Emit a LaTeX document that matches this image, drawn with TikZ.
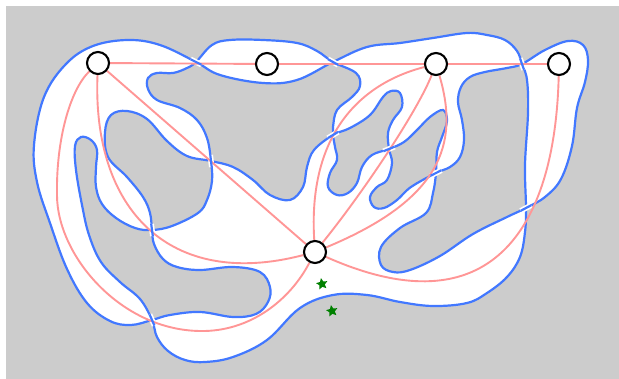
\documentclass[tikz,border=0pt]{standalone}
\usetikzlibrary{shapes.geometric}
\definecolor{bandblue}{RGB}{66,120,255}
\definecolor{edgepink}{RGB}{255,150,150}
\definecolor{canvasgray}{RGB}{204,204,204}
\definecolor{stargreen}{RGB}{0,128,0}
\pgfdeclarelayer{bg}
\pgfdeclarelayer{mid}
\pgfsetlayers{bg,mid,main}
\begin{document}
\begin{tikzpicture}[x=1pt,y=-1pt,
  vertex/.style={circle, draw=black, line width=2.1pt, fill=white, minimum size=22pt, inner sep=0pt},
  edge/.style={draw=edgepink, line width=1.9pt},
  rim/.style={draw=bandblue, line width=2.2pt},
  halo/.style={draw=white, line width=5.5pt},
  marker/.style={star, star points=5, star point ratio=2.1, fill=stargreen, minimum size=12pt, inner sep=0pt, rotate=10}]
\useasboundingbox (0,0) rectangle (619,379);

% vertices
\node[vertex] (n1) at (98,63) {};
\node[vertex] (n2) at (267,64) {};
\node[vertex] (n3) at (436,64) {};
\node[vertex] (n4) at (559,64) {};
\node[vertex] (n5) at (315,252) {};

% two small markers below the lower vertex
\node[marker] (s1) at (322,284) {};
\node[marker] (s2) at (332,311) {};

\begin{pgfonlayer}{bg}
  \fill[white] (0,0) rectangle (619,379);
  \fill[canvasgray] (6,6) rectangle (619,379);
  % the twisted band: one closed self-crossing boundary
  \filldraw[fill=white, rim, even odd rule] plot[smooth cycle, tension=0.62] coordinates {
    (34,145) (37,182) (50,223) (67,269) (87,303) (110,321) (131,325) (152,320)
    (170,315) (200,312) (233,317) (256,314) (268,302) (270,287) (260,272) (233,267)
    (200,270) (177,267) (163,259) (154,244) (152,230) (150,213) (143,197) (127,177)
    (108,157) (105,132) (111,115) (127,111) (147,119) (167,141) (187,156) (211,161)
    (233,167) (253,180) (270,195) (290,200) (303,187) (307,167) (314,150) (333,135)
    (350,128) (370,115) (383,97) (391,91) (400,93) (402,107) (393,120) (388,133)
    (389,149) (392,163) (387,180) (377,187) (370,197) (374,207) (384,208) (397,200)
    (411,187) (436,173) (450,167) (460,157) (464,140) (462,120) (458,102) (461,87)
    (470,77) (485,72) (507,68) (522,64) (545,50) (568,41) (583,45) (588,60)
    (585,82) (577,108) (572,146) (561,179) (545,197) (526,208) (507,217) (473,234)
    (440,256) (410,270) (393,272) (381,265) (381,247) (400,228) (426,213) (433,193)
    (436,173) (437,152) (442,137) (447,121) (443,110) (430,117) (417,130) (404,142)
    (389,149) (372,155) (362,167) (357,183) (348,193) (337,195) (328,187) (330,173)
    (337,160) (335,147) (333,135) (333,127) (337,110) (352,97) (360,86) (356,73)
    (333,62) (317,51) (297,43) (263,40) (230,40) (212,45) (196,62) (187,68)
    (173,73) (157,73) (148,78) (148,89) (157,100) (180,108) (197,120) (207,138)
    (211,161) (212,181) (207,200) (198,213) (172,226) (152,230) (135,228) (116,218)
    (102,204) (96,187) (96,167) (97,150) (91,140) (81,137) (75,146) (76,170)
    (82,205) (89,235) (101,262) (120,282) (140,299) (152,320) (157,337) (168,351)
    (185,360) (205,362) (233,357) (267,340) (300,308) (333,295) (367,295) (400,302)
    (433,306) (467,303) (487,293) (507,277) (520,257) (525,232) (526,208) (525,165)
    (528,113) (527,80) (522,64) (517,51) (505,40) (487,35) (467,33) (433,38)
    (400,43) (367,47) (333,62) (297,80) (263,83) (220,75) (196,62) (160,45)
    (128,40) (93,46) (66,64) (44,97)};
  % clear the under-strand at each crossing
  \foreach \a/\b in {{190.6,59.3}/{201.4,64.7}, {327.8,59.1}/{338.2,64.9},
      {520.7,210.8}/{531.3,205.2}, {154.4,325.5}/{149.6,314.5},
      {151.2,224}/{152.8,236}, {211.7,167}/{210.3,155},
      {338.1,131.9}/{327.9,138.1}, {383.4,151.3}/{394.6,146.7},
      {441.3,170.3}/{430.7,175.7}, {520,58.3}/{524,69.7}}
    \draw[halo] (\a) -- (\b);
\end{pgfonlayer}

\begin{pgfonlayer}{mid}
  % edges of the graph
  \draw[edge] (n1) -- (n2);
  \draw[edge] (n2) -- (n3);
  \draw[edge] (n3) -- (n4);
  \draw[edge] (n1) -- (n5);
  \draw[edge] (n1) .. controls (92,210) and (170,290) .. (n5);
  \draw[edge] (n1) .. controls (70,90) and (56,140) .. (57,195)
                   .. controls (57,255) and (120,330) .. (200,331)
                   .. controls (250,332) and (290,300) .. (n5);
  \draw[edge] (n3) .. controls (355,85) and (308,140) .. (n5);
  \draw[edge] (n3) .. controls (418,110) and (365,190) .. (n5);
  \draw[edge] (n3) .. controls (460,145) and (440,200) .. (n5);
  \draw[edge] (n4) .. controls (555,230) and (490,330) .. (n5);
  % over-strands at the crossings
  \foreach \a/\b in {{190.6,59.3}/{201.4,64.7}, {327.8,59.1}/{338.2,64.9},
      {520.7,210.8}/{531.3,205.2}, {154.4,325.5}/{149.6,314.5},
      {151.2,224}/{152.8,236}, {211.7,167}/{210.3,155},
      {338.1,131.9}/{327.9,138.1}, {383.4,151.3}/{394.6,146.7},
      {441.3,170.3}/{430.7,175.7}, {520,58.3}/{524,69.7}}
    \draw[rim] (\a) -- (\b);
\end{pgfonlayer}
\end{tikzpicture}
\end{document}
